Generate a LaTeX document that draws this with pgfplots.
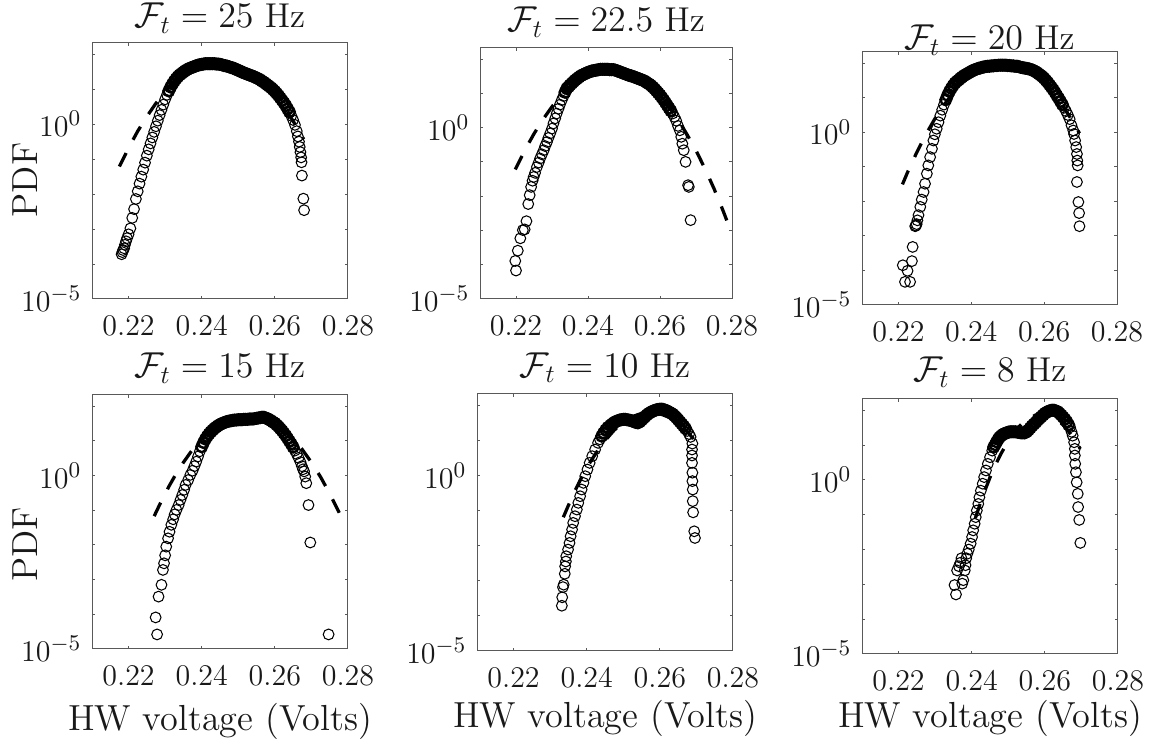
\documentclass[border=0pt]{standalone}
\usepackage{pgfplots}
\usepackage{pgfplotstable}
\pgfplotsset{compat=1.18}

% ---------- Panel 1 : 25 Hz ----------
\pgfplotstableread{
x l
0.2181 -3.72
0.2183 -3.66
0.2185 -3.60
0.2188 -3.55
0.2190 -3.45
0.2193 -3.35
0.2196 -3.26
0.2200 -3.15
0.2205 -2.98
0.2210 -2.68
0.2215 -2.43
0.2220 -2.14
0.2225 -1.92
0.2230 -1.70
0.2235 -1.50
0.2240 -1.30
0.2245 -1.10
0.2250 -0.90
0.2255 -0.72
0.2260 -0.55
0.2265 -0.38
0.2270 -0.22
0.2275 -0.06
0.2280 0.10
0.2285 0.26
0.2290 0.41
0.2295 0.56
0.2300 0.71
0.2305 0.84
0.2310 0.95
0.2315 1.06
0.2320 1.15
0.2325 1.23
0.2330 1.30
0.2335 1.36
0.2340 1.41
0.2345 1.45
0.2350 1.49
0.2355 1.53
0.2360 1.56
0.2365 1.59
0.2370 1.61
0.2375 1.63
0.2380 1.65
0.2385 1.67
0.2390 1.69
0.2395 1.70
0.2400 1.71
0.2405 1.72
0.2410 1.73
0.2415 1.73
0.2420 1.73
0.2425 1.73
0.2430 1.73
0.2435 1.73
0.2440 1.72
0.2445 1.72
0.2450 1.71
0.2455 1.70
0.2460 1.68
0.2465 1.67
0.2470 1.66
0.2475 1.64
0.2480 1.62
0.2485 1.61
0.2490 1.59
0.2495 1.56
0.2500 1.54
0.2505 1.52
0.2510 1.49
0.2515 1.47
0.2520 1.45
0.2525 1.43
0.2530 1.41
0.2535 1.39
0.2540 1.37
0.2545 1.35
0.2550 1.32
0.2555 1.30
0.2560 1.27
0.2565 1.23
0.2570 1.20
0.2575 1.16
0.2580 1.12
0.2585 1.08
0.2590 1.04
0.2595 0.99
0.2600 0.94
0.2605 0.88
0.2610 0.82
0.2615 0.75
0.2620 0.68
0.2625 0.61
0.2630 0.53
0.2635 0.44
0.2640 0.35
0.2645 0.24
0.2650 0.12
0.2655 -0.02
0.2660 -0.20
0.2663 -0.35
0.2666 -0.50
0.2668 -0.65
0.2670 -0.80
0.2672 -0.95
0.2673 -1.09
0.2674 -1.47
0.2678 -2.13
0.2680 -2.46
}\dA
\pgfplotstableread{
x l
0.2175 -1.21
0.2200 -0.68
0.2225 -0.20
0.2250 0.22
0.2275 0.60
0.2300 0.93
0.2325 1.20
0.2350 1.42
0.2375 1.59
0.2400 1.71
0.2425 1.78
0.2450 1.80
0.2475 1.77
0.2500 1.68
0.2525 1.54
0.2550 1.36
0.2575 1.12
0.2600 0.83
0.2625 0.49
0.2650 0.09
0.2679 -0.43
}\fA

% ---------- Panel 2 : 22.5 Hz ----------
\pgfplotstableread{
x l
0.2198 -3.89
0.2200 -4.17
0.2205 -3.59
0.2212 -3.23
0.2219 -2.99
0.2224 -2.97
0.2229 -2.73
0.2234 -2.23
0.2238 -1.97
0.2242 -1.73
0.2246 -1.55
0.2249 -1.44
0.2253 -1.32
0.2258 -1.15
0.2263 -1.02
0.2267 -0.90
0.2272 -0.78
0.2277 -0.66
0.2281 -0.54
0.2286 -0.42
0.2290 -0.30
0.2295 -0.17
0.2300 -0.03
0.2304 0.12
0.2309 0.27
0.2313 0.41
0.2318 0.55
0.2322 0.67
0.2327 0.80
0.2332 0.92
0.2336 1.03
0.2341 1.14
0.2346 1.19
0.2350 1.24
0.2355 1.29
0.2360 1.34
0.2365 1.39
0.2370 1.43
0.2375 1.47
0.2380 1.51
0.2385 1.54
0.2390 1.56
0.2395 1.59
0.2400 1.61
0.2405 1.63
0.2410 1.65
0.2415 1.66
0.2420 1.67
0.2425 1.68
0.2430 1.69
0.2435 1.70
0.2440 1.70
0.2445 1.70
0.2450 1.70
0.2455 1.70
0.2460 1.69
0.2465 1.69
0.2470 1.69
0.2475 1.68
0.2480 1.66
0.2485 1.64
0.2490 1.62
0.2495 1.60
0.2500 1.58
0.2505 1.56
0.2510 1.54
0.2515 1.52
0.2520 1.51
0.2525 1.49
0.2530 1.47
0.2535 1.45
0.2540 1.43
0.2545 1.41
0.2550 1.39
0.2555 1.37
0.2560 1.34
0.2565 1.30
0.2570 1.27
0.2575 1.23
0.2580 1.18
0.2585 1.13
0.2590 1.07
0.2595 1.01
0.2600 0.95
0.2605 0.88
0.2610 0.81
0.2615 0.73
0.2620 0.65
0.2625 0.57
0.2630 0.49
0.2635 0.41
0.2640 0.31
0.2645 0.20
0.2650 0.05
0.2655 -0.08
0.2659 -0.27
0.2662 -0.47
0.2666 -0.66
0.2671 -1.00
0.2678 -1.68
0.2680 -1.73
0.2685 -2.70
}\dB
\pgfplotstableread{
x l
0.2198 -1.22
0.2225 -0.65
0.2250 -0.18
0.2275 0.24
0.2300 0.61
0.2325 0.93
0.2350 1.19
0.2375 1.40
0.2400 1.56
0.2425 1.66
0.2450 1.71
0.2475 1.71
0.2500 1.66
0.2525 1.55
0.2550 1.39
0.2575 1.18
0.2600 0.92
0.2625 0.60
0.2650 0.23
0.2675 -0.20
0.2700 -0.67
0.2725 -1.20
0.2750 -1.78
0.2775 -2.42
0.2800 -3.11
}\fB

% ---------- Panel 3 : 20 Hz ----------
\pgfplotstableread{
x l
0.2212 -3.85
0.2218 -4.33
0.2225 -4.01
0.2232 -4.33
0.2237 -3.73
0.2239 -3.32
0.2246 -2.72
0.2248 -2.70
0.2250 -2.66
0.2252 -2.55
0.2255 -2.40
0.2260 -2.16
0.2264 -1.95
0.2269 -1.73
0.2273 -1.49
0.2278 -1.20
0.2282 -0.96
0.2287 -0.72
0.2292 -0.48
0.2296 -0.24
0.2300 -0.06
0.2305 0.10
0.2310 0.29
0.2315 0.48
0.2320 0.65
0.2325 0.80
0.2330 0.94
0.2335 1.07
0.2340 1.18
0.2345 1.27
0.2350 1.35
0.2355 1.42
0.2360 1.47
0.2365 1.51
0.2370 1.56
0.2375 1.60
0.2380 1.64
0.2385 1.67
0.2390 1.70
0.2395 1.73
0.2400 1.76
0.2405 1.79
0.2410 1.81
0.2415 1.83
0.2420 1.85
0.2425 1.86
0.2430 1.88
0.2435 1.89
0.2440 1.90
0.2445 1.91
0.2450 1.91
0.2455 1.92
0.2460 1.92
0.2465 1.93
0.2470 1.93
0.2475 1.94
0.2480 1.94
0.2485 1.94
0.2490 1.94
0.2495 1.94
0.2500 1.93
0.2505 1.93
0.2510 1.92
0.2515 1.92
0.2520 1.91
0.2525 1.91
0.2530 1.90
0.2535 1.88
0.2540 1.87
0.2545 1.86
0.2550 1.85
0.2555 1.84
0.2560 1.83
0.2565 1.81
0.2570 1.79
0.2575 1.76
0.2580 1.73
0.2585 1.69
0.2590 1.65
0.2595 1.61
0.2600 1.56
0.2605 1.50
0.2610 1.44
0.2615 1.37
0.2620 1.30
0.2625 1.23
0.2630 1.15
0.2635 1.06
0.2640 0.98
0.2645 0.89
0.2650 0.80
0.2655 0.71
0.2660 0.61
0.2665 0.50
0.2670 0.38
0.2675 0.20
0.2680 0.05
0.2682 -0.05
0.2685 -0.24
0.2688 -0.43
0.2690 -0.63
0.2691 -0.82
0.2692 -0.96
0.2690 -1.44
0.2694 -2.02
0.2696 -2.34
0.2697 -2.72
}\dC
\pgfplotstableread{
x l
0.2211 -1.51
0.2225 -1.16
0.2250 -0.59
0.2275 -0.07
0.2300 0.39
0.2325 0.79
0.2350 1.14
0.2375 1.42
0.2400 1.65
0.2425 1.82
0.2450 1.94
0.2475 1.99
0.2500 1.99
0.2525 1.93
0.2550 1.82
0.2575 1.64
0.2600 1.41
0.2625 1.12
0.2650 0.78
0.2675 0.37
0.2697 -0.03
}\fC

% ---------- Panel 4 : 15 Hz ----------
\pgfplotstableread{
x l
0.2278 -4.58
0.2274 -4.09
0.2282 -3.49
0.2290 -3.15
0.2294 -2.72
0.2297 -2.53
0.2300 -2.30
0.2303 -2.05
0.2308 -1.81
0.2312 -1.62
0.2317 -1.42
0.2322 -1.26
0.2326 -1.12
0.2331 -0.99
0.2337 -0.85
0.2342 -0.70
0.2347 -0.56
0.2352 -0.41
0.2356 -0.27
0.2363 -0.13
0.2369 0.02
0.2375 0.14
0.2380 0.27
0.2385 0.40
0.2390 0.55
0.2395 0.70
0.2400 0.83
0.2405 0.95
0.2410 1.05
0.2415 1.13
0.2420 1.20
0.2425 1.26
0.2430 1.31
0.2435 1.36
0.2440 1.40
0.2445 1.44
0.2450 1.47
0.2455 1.50
0.2460 1.52
0.2465 1.54
0.2470 1.56
0.2475 1.57
0.2480 1.58
0.2485 1.59
0.2490 1.60
0.2495 1.60
0.2500 1.61
0.2505 1.61
0.2510 1.61
0.2515 1.62
0.2520 1.62
0.2525 1.62
0.2530 1.63
0.2535 1.63
0.2540 1.63
0.2545 1.64
0.2550 1.65
0.2555 1.66
0.2560 1.67
0.2565 1.68
0.2570 1.68
0.2575 1.66
0.2580 1.64
0.2585 1.61
0.2590 1.58
0.2595 1.54
0.2600 1.51
0.2605 1.46
0.2610 1.41
0.2615 1.35
0.2620 1.29
0.2625 1.22
0.2630 1.15
0.2635 1.07
0.2640 0.99
0.2645 0.91
0.2650 0.82
0.2655 0.72
0.2660 0.62
0.2665 0.51
0.2670 0.39
0.2674 0.27
0.2677 0.18
0.2680 0.12
0.2683 -0.03
0.2686 -0.22
0.2692 -0.85
0.2697 -1.93
0.2747 -4.58
}\dD
\pgfplotstableread{
x l
0.2270 -1.17
0.2290 -0.73
0.2310 -0.32
0.2330 0.05
0.2350 0.38
0.2375 0.75
0.2400 1.06
0.2425 1.31
0.2450 1.51
0.2475 1.65
0.2500 1.73
0.2525 1.76
0.2550 1.73
0.2575 1.65
0.2600 1.51
0.2625 1.31
0.2650 1.06
0.2675 0.75
0.2700 0.38
0.2725 -0.04
0.2750 -0.52
0.2775 -1.05
0.2790 -1.40
}\fD

% ---------- Panel 5 : 10 Hz ----------
\pgfplotstableread{
x l
0.2332 -3.71
0.2333 -3.47
0.2335 -3.18
0.2337 -3.11
0.2340 -2.80
0.2341 -2.59
0.2343 -2.45
0.2344 -2.30
0.2349 -2.11
0.2353 -1.92
0.2356 -1.73
0.2360 -1.54
0.2363 -1.35
0.2368 -1.16
0.2373 -0.97
0.2377 -0.78
0.2382 -0.59
0.2386 -0.40
0.2391 -0.21
0.2396 -0.02
0.2402 0.17
0.2408 0.36
0.2415 0.55
0.2423 0.74
0.2431 0.93
0.2436 1.03
0.2441 1.12
0.2446 1.21
0.2452 1.30
0.2458 1.37
0.2465 1.43
0.2470 1.47
0.2475 1.51
0.2480 1.54
0.2485 1.56
0.2490 1.58
0.2495 1.59
0.2500 1.60
0.2505 1.60
0.2510 1.59
0.2515 1.58
0.2520 1.57
0.2525 1.55
0.2530 1.53
0.2535 1.51
0.2540 1.50
0.2545 1.53
0.2550 1.58
0.2555 1.63
0.2560 1.68
0.2565 1.73
0.2570 1.77
0.2575 1.80
0.2580 1.83
0.2585 1.85
0.2590 1.87
0.2595 1.88
0.2600 1.89
0.2605 1.89
0.2610 1.88
0.2615 1.86
0.2620 1.84
0.2625 1.81
0.2630 1.78
0.2635 1.75
0.2640 1.70
0.2645 1.65
0.2650 1.59
0.2655 1.53
0.2660 1.47
0.2665 1.41
0.2670 1.34
0.2675 1.27
0.2680 1.18
0.2684 1.10
0.2689 0.91
0.2688 0.74
0.2688 0.57
0.2688 0.36
0.2689 0.08
0.2689 -0.16
0.2690 -0.40
0.2690 -0.73
0.2691 -1.05
0.2694 -1.59
0.2696 -1.78
}\dE
\pgfplotstableread{
x l
0.2336 -1.19
0.2350 -0.85
0.2370 -0.39
0.2390 0.02
0.2410 0.39
0.2430 0.71
0.2450 0.99
0.2475 1.29
0.2500 1.52
0.2525 1.68
0.2550 1.77
0.2575 1.80
0.2600 1.76
0.2625 1.66
0.2650 1.48
0.2675 1.25
0.2696 0.99
}\fE

% ---------- Panel 6 : 8 Hz ----------
\pgfplotstableread{
x l
0.2353 -3.02
0.2357 -3.29
0.2360 -2.60
0.2365 -2.48
0.2369 -2.38
0.2374 -2.98
0.2377 -2.88
0.2372 -2.25
0.2381 -2.60
0.2383 -2.45
0.2385 -2.25
0.2388 -2.12
0.2392 -2.00
0.2397 -1.83
0.2401 -1.64
0.2404 -1.45
0.2408 -1.26
0.2411 -1.07
0.2414 -0.88
0.2418 -0.69
0.2421 -0.50
0.2425 -0.31
0.2430 -0.11
0.2434 0.08
0.2439 0.27
0.2444 0.46
0.2450 0.65
0.2456 0.84
0.2460 0.94
0.2464 1.01
0.2468 1.09
0.2472 1.16
0.2476 1.22
0.2481 1.27
0.2486 1.31
0.2490 1.33
0.2495 1.35
0.2500 1.37
0.2505 1.38
0.2510 1.38
0.2515 1.38
0.2520 1.38
0.2525 1.37
0.2530 1.36
0.2535 1.35
0.2540 1.35
0.2545 1.35
0.2550 1.38
0.2555 1.43
0.2560 1.49
0.2565 1.55
0.2570 1.60
0.2575 1.65
0.2580 1.71
0.2585 1.76
0.2590 1.81
0.2595 1.86
0.2600 1.91
0.2605 1.94
0.2610 1.97
0.2615 1.99
0.2620 2.00
0.2625 2.00
0.2630 1.98
0.2635 1.96
0.2640 1.91
0.2645 1.86
0.2650 1.80
0.2655 1.74
0.2660 1.67
0.2665 1.58
0.2669 1.51
0.2673 1.38
0.2676 1.27
0.2680 1.08
0.2682 0.89
0.2682 0.70
0.2683 0.46
0.2685 0.22
0.2687 -0.07
0.2690 -0.40
0.2691 -0.78
0.2694 -1.15
0.2697 -1.81
}\dF
\pgfplotstableread{
x l
0.2410 -1.10
0.2420 -0.78
0.2430 -0.48
0.2440 -0.20
0.2450 0.07
0.2465 0.43
0.2480 0.75
0.2500 1.12
0.2525 1.48
0.2550 1.74
0.2575 1.86
0.2600 1.87
0.2625 1.78
0.2650 1.58
0.2675 1.26
0.2697 0.89
}\fF

\pgfplotsset{
  every axis title shift=0pt,
  pdfpanel/.style={
    scale only axis,
    anchor=south west,
    xmin=0.21, xmax=0.28,
    xtick={0.22,0.24,0.26,0.28},
    xticklabels={$0.22$,$0.24$,$0.26$,$0.28$},
    ytick={1e-5,1e-4,1e-3,1e-2,1e-1,1,10,100},
    yticklabels={$10^{-5}$,,,,,$10^{0}$,,},
    yminorticks=false, xminorticks=false,
    tick align=inside,
    major tick length=1.3pt,
    axis line style={black!65, line width=0.4pt},
    major tick style={black!65, line width=0.4pt},
    tick label style={font=\fontsize{12.4}{14}\selectfont, text=black!90},
    xticklabel style={yshift=-3.5pt},
    yticklabel style={xshift=-0.7pt},
    label style={font=\fontsize{14.5}{16}\selectfont, text=black!90},
    title style={font=\fontsize{13.8}{15}\selectfont, text=black!90, anchor=base},
  },
  pdfmarks/.style={only marks, mark=o, mark size=2.15pt, black, mark options={line width=0.42pt, draw=black}},
  pdfdense/.style={only marks, mark=o, mark size=2.15pt, black, mark options={line width=0.95pt, draw=black}},
  pdffit/.style={no marks, black, line width=1.3pt, dash pattern=on 6pt off 6pt},
}

\begin{document}
\begin{tikzpicture}
\path[use as bounding box] (0,0) rectangle (462pt,298.8pt);

% Panel 1
\begin{axis}[ymode=log, ymin=1e-5, ymax=210, pdfpanel, at={(36.8pt,179.2pt)}, width=102.4pt, height=102.4pt,
  title={$\mathcal{F}_t = 25$ Hz}, title style={at={(0.5,1.059)}},
  ylabel={PDF}, ylabel style={at={(axis description cs:-0.262,0.465)}, anchor=center}]
\addplot[pdfmarks] table[x=x, y expr=10^\thisrow{l}] {\dA};
\addplot[pdfdense, restrict x to domain=0.2310:0.2640] table[x=x, y expr=10^\thisrow{l}] {\dA};
\addplot[pdffit] table[x=x, y expr=10^\thisrow{l}] {\fA};
\end{axis}

% Panel 2
\begin{axis}[ymode=log, ymin=1e-5, ymax=210, pdfpanel, at={(192pt,179.2pt)}, width=100.8pt, height=100.4pt,
  title={$\mathcal{F}_t = 22.5$ Hz}, title style={at={(0.5,1.064)}}]
\addplot[pdfmarks] table[x=x, y expr=10^\thisrow{l}] {\dB};
\addplot[pdfdense, restrict x to domain=0.2335:0.2630] table[x=x, y expr=10^\thisrow{l}] {\dB};
\addplot[pdffit] table[x=x, y expr=10^\thisrow{l}] {\fB};
\end{axis}

% Panel 3
\begin{axis}[ymode=log, ymin=1e-5, ymax=210, pdfpanel, at={(344.8pt,176.8pt)}, width=102pt, height=101.2pt,
  title={$\mathcal{F}_t = 20$ Hz}, title style={at={(0.5,1.008)}}]
\addplot[pdfmarks] table[x=x, y expr=10^\thisrow{l}] {\dC};
\addplot[pdfdense, restrict x to domain=0.2330:0.2650] table[x=x, y expr=10^\thisrow{l}] {\dC};
\addplot[pdffit] table[x=x, y expr=10^\thisrow{l}] {\fC};
\end{axis}

% Panel 4
\begin{axis}[ymode=log, ymin=1e-5, ymax=210, pdfpanel, at={(36.8pt,39.2pt)}, width=102.4pt, height=101.6pt,
  title={$\mathcal{F}_t = 15$ Hz}, title style={at={(0.5,1.067)}},
  ylabel={PDF}, ylabel style={at={(axis description cs:-0.262,0.413)}, anchor=center},
  xlabel={HW voltage (Volts)}, xlabel style={at={(axis description cs:0.5,-0.319)}, anchor=base}]
\addplot[pdfmarks] table[x=x, y expr=10^\thisrow{l}] {\dD};
\addplot[pdfdense, restrict x to domain=0.2400:0.2650] table[x=x, y expr=10^\thisrow{l}] {\dD};
\addplot[pdffit] table[x=x, y expr=10^\thisrow{l}] {\fD};
\end{axis}

% Panel 5
\begin{axis}[ymode=log, ymin=1e-5, ymax=210, pdfpanel, at={(190.8pt,38.4pt)}, width=102.4pt, height=102.8pt,
  title={$\mathcal{F}_t = 10$ Hz}, title style={at={(0.5,1.066)}},
  xlabel={HW voltage (Volts)}, xlabel style={at={(axis description cs:0.5,-0.296)}, anchor=base}]
\addplot[pdfmarks] table[x=x, y expr=10^\thisrow{l}] {\dE};
\addplot[pdfdense, restrict x to domain=0.2440:0.2670] table[x=x, y expr=10^\thisrow{l}] {\dE};
\addplot[pdffit] table[x=x, y expr=10^\thisrow{l}] {\fE};
\end{axis}

% Panel 6
\begin{axis}[ymode=log, ymin=1e-5, ymax=210, pdfpanel, at={(344.8pt,37.2pt)}, width=102.4pt, height=102pt,
  title={$\mathcal{F}_t = 8$ Hz}, title style={at={(0.5,1.067)}},
  xlabel={HW voltage (Volts)}, xlabel style={at={(axis description cs:0.5,-0.29)}, anchor=base}]
\addplot[pdfmarks] table[x=x, y expr=10^\thisrow{l}] {\dF};
\addplot[pdfdense, restrict x to domain=0.2460:0.2665] table[x=x, y expr=10^\thisrow{l}] {\dF};
\addplot[pdffit] table[x=x, y expr=10^\thisrow{l}] {\fF};
\end{axis}
\end{tikzpicture}
\end{document}
